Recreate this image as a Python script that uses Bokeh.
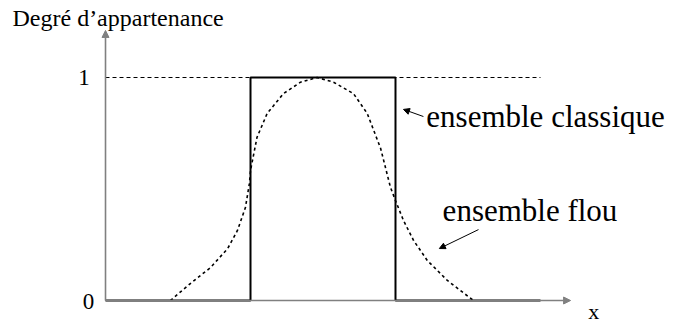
from bokeh.plotting import figure
from bokeh.models import Range1d, Arrow, NormalHead
from bokeh.core.properties import value
from bokeh.embed import file_html
from bokeh.resources import INLINE

# ---- data ----
crisp_x = [0, 4, 4, 8, 8, 12]
crisp_y = [0, 0, 1, 1, 0, 0]

fuzzy_x = [1.79, 2.34, 2.90, 3.37, 3.64, 3.86, 3.97, 4.00, 4.18, 4.46, 4.91, 5.38,
           5.84, 6.29, 6.84, 7.22, 7.59, 7.86, 8.00, 8.22, 8.50, 8.88, 9.43, 10.15]
fuzzy_y = [0.0, 0.076, 0.148, 0.233, 0.314, 0.417, 0.525, 0.583, 0.732, 0.839, 0.928, 0.979,
           1.0, 0.979, 0.928, 0.839, 0.682, 0.508, 0.448, 0.359, 0.269, 0.179, 0.090, 0.0]

ref_level = 1
x_max = 12
tick_labels = ["0", "1"]
y_title = "Degré d’appartenance"
x_title = "x"
label_crisp = "ensemble classique"
label_fuzzy = "ensemble flou"

SERIF = value("Liberation Serif")
PX = 1 / 223.0  # one pixel in y data units

p = figure(width=674, height=324, output_backend="svg", toolbar_location=None,
           x_range=Range1d(-2.897, 15.697), y_range=Range1d(-0.1076, 1.3453),
           x_axis_type=None, y_axis_type=None, min_border=0,
           min_border_left=0, min_border_right=0, min_border_top=0, min_border_bottom=0)
p.outline_line_color = None
p.background_fill_color = "white"
p.border_fill_color = "white"

AX = "#808080"
# axes with arrow heads
p.add_layout(Arrow(x_start=0, y_start=0, x_end=0, y_end=1.211, line_color=AX, line_width=1.6,
                   end=NormalHead(size=7, fill_color=AX, line_color=AX, line_width=1)))
p.add_layout(Arrow(x_start=0, y_start=0, x_end=12.83, y_end=0, line_color=AX, line_width=1.6,
                   end=NormalHead(size=7, fill_color=AX, line_color=AX, line_width=1)))

# reference level dashed line
p.line([0, x_max], [ref_level, ref_level], line_color="black", line_width=1, line_dash="4 3")

# fuzzy set
p.line(fuzzy_x, fuzzy_y, line_color="black", line_width=1.6, line_dash="3 3")

# crisp set
p.line(crisp_x, crisp_y, line_color="black", line_width=2)

# annotation arrows
p.add_layout(Arrow(x_start=8.77, y_start=0.825, x_end=8.22, y_end=0.857, line_color="black",
                   line_width=1, end=NormalHead(size=6, fill_color="black", line_color="black")))
p.add_layout(Arrow(x_start=10.29, y_start=0.318, x_end=9.21, y_end=0.233, line_color="black",
                   line_width=1, end=NormalHead(size=6, fill_color="black", line_color="black")))

# texts
p.text(x=[-2.566], y=[1.2511 + 4 * PX], text=[y_title], text_font=SERIF, text_font_size="24px",
       text_baseline="alphabetic", text_align="left", text_color="black")
p.text(x=[(88 - 105) / 36.25, (83.5 - 105) / 36.25], y=[-0.0404 + 8 * PX, 0.964 + 8 * PX],
       text=tick_labels, text_font=SERIF, text_font_size="23px", text_baseline="alphabetic",
       text_align="center", text_color="black")
p.text(x=[13.32], y=[-0.0762 + 6 * PX], text=[x_title], text_font=SERIF, text_font_size="22px",
       text_baseline="alphabetic", text_align="left", text_color="black")
p.text(x=[8.85], y=[0.785 + 9 * PX], text=[label_crisp], text_font=SERIF, text_font_size="31px",
       text_baseline="alphabetic", text_align="left", text_color="black")
p.text(x=[9.30], y=[0.368 + 8 * PX], text=[label_fuzzy], text_font=SERIF, text_font_size="31px",
       text_baseline="alphabetic", text_align="left", text_color="black")

open("out.html", "w").write(file_html(p, INLINE))
